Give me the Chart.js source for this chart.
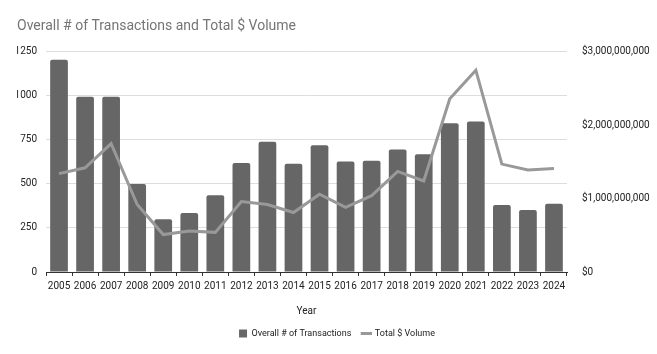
<!DOCTYPE html>
<html>
<head>
<meta charset="utf-8">
<script src="https://cdn.jsdelivr.net/npm/chart.js@4"></script>
<style>
  html, body { margin: 0; padding: 0; background: #fff; }
  #wrap { width: 657px; height: 354px; }
</style>
</head>
<body>
<div id="wrap"><canvas id="chart" width="657" height="354"></canvas></div>
<script>
var years = ['2005', '2006', '2007', '2008', '2009', '2010', '2011', '2012', '2013', '2014',
             '2015', '2016', '2017', '2018', '2019', '2020', '2021', '2022', '2023', '2024'];
var transactions = [1205, 995, 995, 500, 300, 335, 436, 619, 740, 615,
                    720, 627, 631, 695, 669, 845, 854, 381, 352, 388];
// total $ volume, dollars
var volume = [1340000000, 1420000000, 1750000000, 920000000, 510000000, 560000000, 540000000, 960000000, 920000000, 810000000,
              1060000000, 880000000, 1040000000, 1370000000, 1240000000, 2360000000, 2750000000, 1470000000, 1390000000, 1410000000];
var leftTicks = [0, 250, 500, 750, 1000, 1250];
var rightTicks = [0, 1000000000, 2000000000, 3000000000];

Chart.defaults.font.family = 'Roboto, "Noto Sans", sans-serif';
Chart.defaults.color = '#222';

var ctx = document.getElementById('chart').getContext('2d');
window.myChart = new Chart(ctx, {
    type: 'bar',
    data: {
        labels: years,
        datasets: [{
            type: 'line',
            label: 'Total $ Volume',
            data: volume,
            yAxisID: 'y1',
            borderColor: '#999999',
            backgroundColor: '#999999',
            borderWidth: 3,
            pointRadius: 0,
            tension: 0,
            pointStyle: 'line',
            order: 0
        }, {
            label: 'Overall # of Transactions',
            data: transactions,
            yAxisID: 'y',
            backgroundColor: '#666666',
            borderRadius: 2,
            barPercentage: 0.68,
            categoryPercentage: 1,
            pointStyle: 'rect',
            order: 1
        }]
    },
    options: {
        responsive: false,
        animation: false,
        layout: { padding: { left: 17, right: 0, bottom: 6 } },
        plugins: {
            title: {
                display: true,
                text: 'Overall # of Transactions and Total $ Volume',
                align: 'start',
                color: '#757575',
                font: { size: 14, weight: 'normal' },
                padding: { top: 18, bottom: 17 }
            },
            legend: {
                position: 'bottom',
                reverse: true,
                labels: {
                    usePointStyle: true,
                    boxWidth: 8,
                    boxHeight: 8,
                    padding: 11,
                    font: { size: 9 },
                    color: '#222'
                }
            },
            tooltip: { enabled: false }
        },
        scales: {
            x: {
                offset: true,
                grid: { display: true, drawOnChartArea: false, offset: true, color: '#333', tickLength: 4 },
                border: { color: '#333', width: 1 },
                ticks: { font: { size: 10 }, color: '#222', maxRotation: 0, autoSkip: false, padding: 4 },
                title: { display: true, text: 'Year', font: { size: 10 }, color: '#222', padding: { top: 9, bottom: 1 } }
            },
            y: {
                position: 'left',
                min: 0,
                max: 1250,
                afterBuildTicks: function(scale) {
                    scale.ticks = leftTicks.map(function(v) { return { value: v }; });
                },
                afterFit: function(scale) { scale.width = 29; },
                grid: { color: '#dddddd', drawTicks: false },
                border: { display: false },
                ticks: {
                    font: { size: 10 },
                    color: '#222',
                    padding: 9,
                    callback: function(v) { return String(v); }
                }
            },
            y1: {
                position: 'right',
                min: 0,
                max: 3000000000,
                afterBuildTicks: function(scale) {
                    scale.ticks = rightTicks.map(function(v) { return { value: v }; });
                },
                afterFit: function(scale) { scale.width = 90; },
                grid: { drawOnChartArea: false, drawTicks: false },
                border: { display: false },
                ticks: {
                    font: { size: 10 },
                    color: '#222',
                    padding: 15,
                    callback: function(v) { return '$' + v.toLocaleString('en-US'); }
                }
            }
        }
    }
});
</script>
</body>
</html>
